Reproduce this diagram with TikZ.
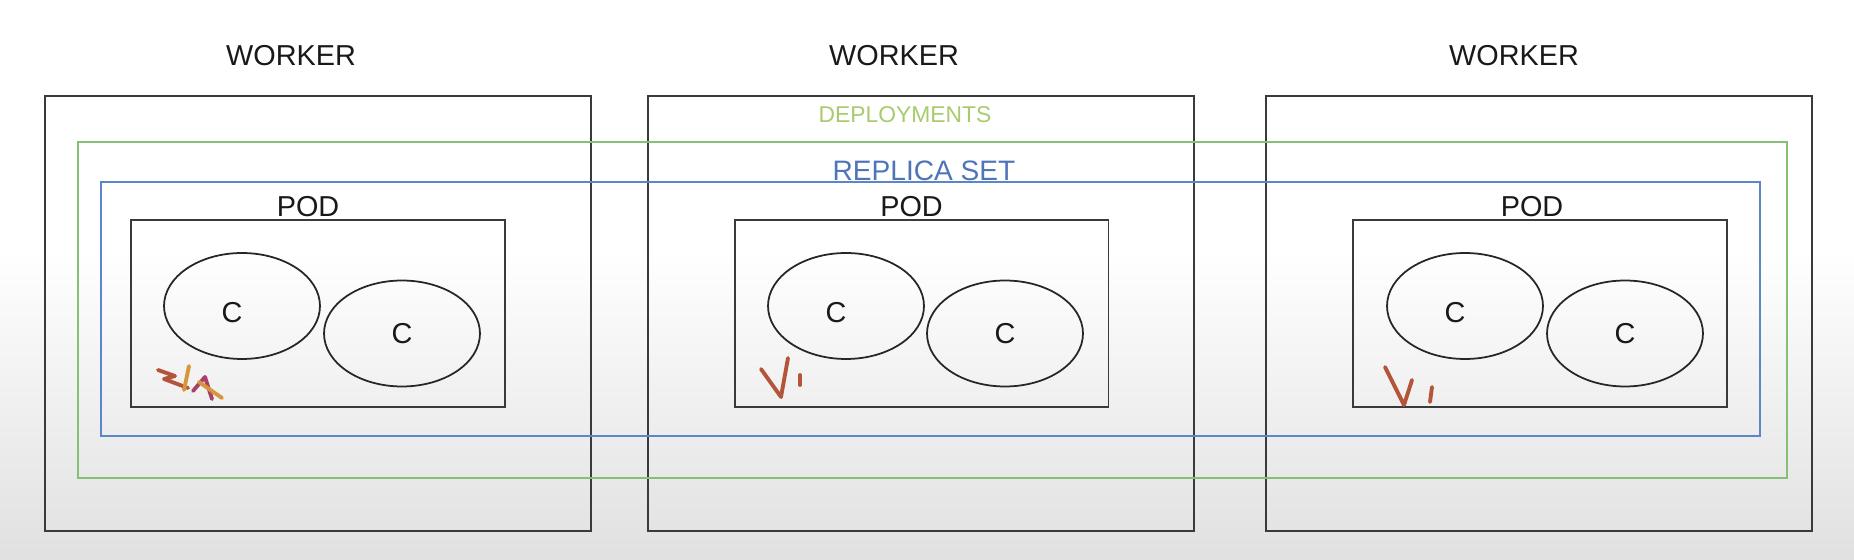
\documentclass[tikz,border=0pt]{standalone}
\usepackage{fontspec}
\setmainfont{Liberation Sans}
\usepackage{tikz}
\usetikzlibrary{positioning,shapes.geometric}
\definecolor{boxgray}{HTML}{3A3A3A}
\definecolor{depgreen}{HTML}{86BF78}
\definecolor{deptext}{HTML}{A8CB6E}
\definecolor{rsblue}{HTML}{5B86C9}
\definecolor{rstext}{HTML}{4E74BA}
\definecolor{inkred}{HTML}{B4553A}
\definecolor{inkorange}{HTML}{D9953A}
\definecolor{inkpurple}{HTML}{A8406A}

\begin{document}
\begin{tikzpicture}[x=0.02cm, y=-0.02cm,
  worker/.style={draw=boxgray, line width=1.1pt, minimum width=10.92cm, minimum height=8.7cm},
  pod/.style={draw=boxgray, line width=1.1pt, minimum width=7.48cm, minimum height=3.74cm},
  ctr/.style={ellipse, draw=black!85, line width=1pt, minimum width=3.12cm,
              minimum height=2.12cm, inner sep=0pt},
  lbl/.style={font=\fontsize{16.4}{18}\selectfont, text=black!90, inner sep=0pt},
  hand/.style={line width=2.2pt, line cap=round, line join=round},
]

% background
\useasboundingbox (0,0) rectangle (1854,560);
\fill[white] (0,0) rectangle (1854,250);
\shade[top color=white, bottom color=black!12] (0,249) rectangle (1854,560);

% workers
\node[worker] (w1) at (318,313.5) {};
\node[worker] (w2) at (921,313.5) {};
\node[worker] (w3) at (1539,313.5) {};
\node[lbl, above=0.57cm of w1, xshift=-0.54cm] (w1t) {WORKER};
\node[lbl, above=0.57cm of w2, xshift=-0.54cm] (w2t) {WORKER};
\node[lbl, above=0.57cm of w3, xshift=-0.5cm] (w3t) {WORKER};

% deployment and replica set
\node[draw=depgreen, line width=1pt, minimum width=34.18cm, minimum height=6.72cm] (dep) at (932.5,310) {};
\node[draw=rsblue, line width=1pt, minimum width=33.2cm, minimum height=5.08cm] (rs) at (930.5,309) {};
\node[lbl, text=deptext, font=\fontsize{13}{15}\selectfont] (dept) at (905,115) {DEPLOYMENTS};
\node[lbl, text=rstext, font=\fontsize{16}{18}\selectfont] (rst) at (924,170.5) {REPLICA SET};

% pods
\node[pod] (p1) at (318,313.5) {};
\node[pod] (p2) at (921.5,313.5) {};
\node[pod] (p3) at (1540,313.5) {};
\node[lbl, above=0.04cm of p1, xshift=-0.2cm] (p1t) {POD};
\node[lbl, above=0.04cm of p2, xshift=-0.2cm] (p2t) {POD};
\node[lbl, above=0.04cm of p3, xshift=-0.16cm] (p3t) {POD};

% containers
\node[ctr, label={[lbl, xshift=-0.2cm, yshift=-0.14cm]center:C}] (c11) at (242,306) {};
\node[ctr, label={[lbl]center:C}] (c12) at (402,333.5) {};
\node[ctr, label={[lbl, xshift=-0.2cm, yshift=-0.14cm]center:C}] (c21) at (846,306) {};
\node[ctr, label={[lbl]center:C}] (c22) at (1005,333.5) {};
\node[ctr, label={[lbl, xshift=-0.2cm, yshift=-0.14cm]center:C}] (c31) at (1465,306) {};
\node[ctr, label={[lbl]center:C}] (c32) at (1625,333.5) {};

% hand marks
\draw[hand, inkred] (158,370) -- (175,376) -- (164,379) -- (188,388);
\draw[hand, inkorange] (189,366) -- (184,390);
\draw[hand, inkpurple] (193,391) -- (205,377) -- (212,399);
\draw[hand, inkorange] (199,382) -- (222,398);
\draw[hand, inkred] (761,369) -- (781,397) -- (788,358);
\draw[hand, inkred] (800,375) -- (800,385);
\draw[hand, inkred] (1385,367) -- (1404,405) -- (1412,380);
\draw[hand, inkred] (1432,387) -- (1430,402);

\end{tikzpicture}
\end{document}
